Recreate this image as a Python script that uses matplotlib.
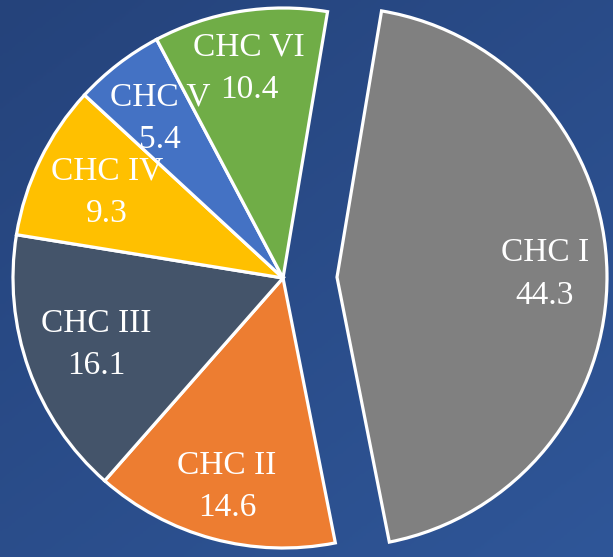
import numpy as np
import matplotlib
matplotlib.use("Agg")
import matplotlib.pyplot as plt
from matplotlib.colors import LinearSegmentedColormap

categories = ["CHC I", "CHC II", "CHC III", "CHC IV", "CHC V", "CHC VI"]
values = [44.3, 14.6, 16.1, 9.3, 5.4, 10.4]
colors = ["#808080", "#ED7D31", "#44546A", "#FFC000", "#4472C4", "#70AD47"]
explode_frac = [0.2, 0, 0, 0, 0, 0]
label_dist = [0.77, 0.80, 0.735, 0.725, 0.745, 0.785]

W, H = 613, 557
R = 270
fig = plt.figure(figsize=(W / 100, H / 100), dpi=100)
ax = fig.add_axes([0, 0, 1, 1])

# background gradient (darker top-left, lighter bottom-right)
yy, xx = np.mgrid[0:1:200j, 0:1:200j]
grad = ((1 - xx) * 0.45 + yy * 0.55)
cmap = LinearSegmentedColormap.from_list("bg", ["#2F5698", "#25437B"])
ax.imshow(grad, extent=[0, W, 0, H], cmap=cmap, origin="lower", zorder=0, aspect="auto")

wedges, _ = ax.pie(values, explode=[e * R for e in explode_frac], colors=colors,
                   startangle=80.5, counterclock=False,
                   center=(283, 279), radius=R, frame=True,
                   wedgeprops=dict(edgecolor="white", linewidth=2.3))
for w, c, v, d in zip(wedges, categories, values, label_dist):
    w.set_zorder(2)
    ang = np.deg2rad((w.theta1 + w.theta2) / 2)
    cx, cy = w.center
    ax.text(cx + d * w.r * np.cos(ang), cy + d * w.r * np.sin(ang), f"{c}\n{v}",
            ha="center", va="center", color="white", fontsize=24,
            family="Liberation Serif", linespacing=1.5, zorder=3)

ax.set_xlim(0, W)
ax.set_ylim(0, H)
ax.set_aspect("equal")
ax.axis("off")

fig.savefig("out.png", dpi=100)
